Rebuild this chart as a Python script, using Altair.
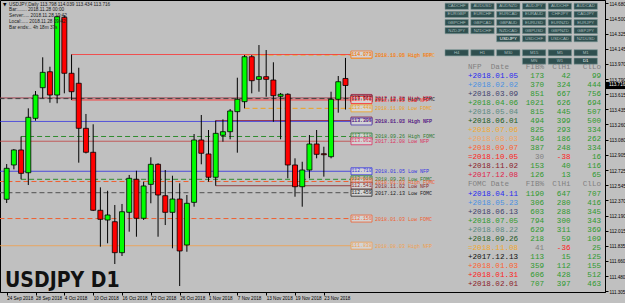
import json
import altair as alt
import pandas as pd

# ---------------- data ----------------
opens = [112.382, 112.784, 112.960, 112.693, 113.331, 113.690, 113.877, 113.604, 114.515, 113.859,
         113.742, 113.214, 112.933, 112.253, 112.139, 112.119, 111.756, 112.229, 112.616, 112.159,
         112.557, 112.792, 112.424, 112.229, 112.385, 111.846, 112.346, 113.077, 112.913, 112.640,
         113.132, 113.174, 113.409, 113.526, 114.053, 113.788, 113.819, 113.780, 113.589, 113.613,
         112.784, 112.529, 112.725, 113.030, 112.916, 112.881, 113.554, 113.798]
highs = [112.795, 112.971, 113.118, 113.448, 113.651, 114.046, 113.936, 114.536, 114.539, 114.079,
         113.924, 113.382, 113.261, 112.522, 112.482, 112.315, 112.327, 112.667, 112.717, 112.588,
         112.874, 112.804, 112.725, 112.658, 112.569, 112.432, 113.147, 113.370, 113.194, 113.305,
         113.319, 113.440, 113.807, 114.073, 114.073, 114.190, 114.132, 113.988, 113.628, 113.624,
         112.862, 112.822, 113.135, 113.194, 112.998, 113.643, 113.827, 114.039]
lows = [112.338, 112.733, 112.616, 112.549, 113.303, 113.566, 113.514, 113.507, 113.624, 113.546,
        112.811, 112.919, 112.244, 111.826, 111.866, 111.623, 111.717, 112.002, 111.943, 112.139,
        112.335, 111.943, 112.080, 111.807, 111.365, 111.767, 112.295, 112.792, 112.588, 112.541,
        113.057, 113.085, 112.928, 113.448, 113.624, 113.643, 113.584, 113.291, 113.085, 112.628,
        112.412, 112.295, 112.628, 112.862, 112.647, 112.862, 113.397, 113.434]
closes = [112.745, 112.960, 112.686, 113.343, 113.604, 113.870, 113.604, 114.522, 113.859, 113.643,
          113.214, 112.933, 112.253, 112.147, 112.198, 111.756, 112.236, 112.628, 112.159, 112.538,
          112.792, 112.432, 112.229, 112.385, 111.776, 112.335, 113.077, 112.921, 112.640, 113.155,
          113.174, 113.417, 113.554, 114.053, 113.772, 113.819, 113.788, 113.596, 113.613, 112.784,
          112.529, 112.725, 113.030, 112.909, 112.904, 113.554, 113.760, 113.716]
current_price = 113.716

x_tick_bars = [0, 4, 8, 12, 16, 20, 24, 28, 32, 36, 40, 44]
x_tick_labels = ["24 Sep 2018", "28 Sep 2018", "4 Oct 2018", "10 Oct 2018", "16 Oct 2018",
                 "22 Oct 2018", "26 Oct 2018", "1 Nov 2018", "7 Nov 2018", "13 Nov 2018",
                 "19 Nov 2018", "23 Nov 2018"]
y_tick_values = [114.680, 114.500, 114.325, 114.145, 113.970, 113.790, 113.615, 113.435,
                 113.260, 113.080, 112.905, 112.725, 112.545, 112.370, 112.190, 112.015,
                 111.835, 111.660, 111.480, 111.305]

header_lines = ["USDJPY,Daily  113.798 114.039 113.434 113.716",
                "Bar:.......  2018.11.28 00:00",
                "Server:....  2018.11.28 19:42",
                "Local:.....  2018.11.28 09:42",
                "Bar ends:..  4h 18m 37s"]

# horizontal NFP / FOMC levels (start = bar index of the event, -1 = before the chart)
level_price = [114.073, 114.079, 113.570, 113.562, 113.546, 113.448, 113.305, 113.294,
               113.118, 113.062, 112.710, 112.616, 112.590, 112.541, 112.459, 112.156, 111.838]
level_start = [33, 9, -1, -1, 9, 33, 29, -1, 2, -1, -1, 2, -1, 29, -1, -1, -1]
level_kind = ["FOMC", "NFP", "NFP", "FOMC", "NFP", "FOMC", "NFP", "NFP",
              "FOMC", "NFP", "NFP", "FOMC", "FOMC", "NFP", "FOMC", "FOMC", "NFP"]
level_label = ["2018.11.08 High FOMC", "2018.10.05 High NFP", "2017.12.08 High NFP",
               "2017.12.13 High FOMC", "2018.10.05 Low NFP", "2018.11.08 Low FOMC",
               "2018.11.02 High NFP", "2018.01.05 High NFP", "2018.09.26 High FOMC",
               "2017.12.08 Low NFP", "2018.01.05 Low NFP", "2018.09.26 Low FOMC",
               "2018.01.03 High FOMC", "2018.11.02 Low NFP", "2017.12.13 Low FOMC",
               "2018.01.03 Low FOMC", "2018.08.03 High NFP"]
level_line_color = ["#f0a020", "#ff2a2a", "#a03040", "#404040", "#ff2a2a", "#f0a020",
                    "#8b1a3a", "#3434e0", "#2e8b2e", "#c04848", "#3434e0", "#2e8b2e",
                    "#f06030", "#8b2a2a", "#505050", "#f06030", "#f0a050"]
level_text_color = ["#f0a020", "#f07a30", "#dc2050", "#202020", "#ff2a2a", "#f0a020",
                    "#8b1a3a", "#4a3ab0", "#2e7a2e", "#dc3060", "#3434e0", "#2e7a2e",
                    "#f06030", "#8b2a2a", "#202020", "#f06030", "#f0a050"]

# right-hand statistics table
nfp_dates = ["+2018.01.05", "+2018.02.02", "+2018.03.09", "+2018.04.06", "+2018.05.04",
             "+2018.06.01", "+2018.07.06", "+2018.08.03", "+2018.09.07", "=2018.10.05",
             "+2018.11.02", "+2017.12.08"]
nfp_fib = [173, 370, 851, 1021, 815, 494, 825, 346, 387, 30, 153, 126]
nfp_clhi = [42, 324, 667, 626, 445, 399, 293, 186, 248, -38, 40, 13]
nfp_cllo = [99, 444, 756, 694, 507, 500, 334, 262, 334, 16, 116, 65]
fomc_dates = ["+2018.04.11", "+2018.05.23", "+2018.06.13", "+2018.07.05", "+2018.08.22",
              "+2018.09.26", "=2018.11.08", "+2017.12.13", "+2018.01.03", "+2018.01.31",
              "+2018.02.01"]
fomc_fib = [1190, 306, 603, 794, 629, 218, 41, 113, 359, 606, 707]
fomc_clhi = [647, 280, 288, 300, 311, 59, -36, 15, 112, 428, 397]
fomc_cllo = [707, 416, 345, 343, 369, 109, 25, 125, 155, 512, 463]
row_colors = ["#2828f0", "#4a90e0", "#40406e", "#2e9a2e", "#5a8a80", "#1e5a1e",
              "#f0a830", "#f4a460", "#ff6030", "#ff2020", "#8b1a2a", "#e0204a"]
fomc_colors = ["#2828f0", "#4a90e0", "#40406e", "#2e9a2e", "#5a8a80", "#1e5a1e",
               "#f0a830", "#101010", "#ff6030", "#ff2020", "#8b1a2a"]
table_headers = ["Date", "FIB%", "ClHi", "ClLo"]

symbol_rows = [["CADCHF", "AUDUSD", "AUDNZD", "AUDJPY", "AUDCHF", "AUDCAD"],
               ["EURGBP", "EURCHF", "EURCAD", "EURAUD", "CHFJPY", "CADJPY"],
               ["GBPCHF", "GBPCAD", "GBPAUD", "EURUSD", "EURNZD", "EURJPY"],
               ["NZDJPY", "NZDCHF", "NZDCAD", "GBPUSD", "GBPNZD", "GBPJPY"],
               ["", "", "USDJPY", "USDCHF", "USDCAD", "NZDUSD"]]
tf_rows = [["H4", "H1", "M30", "M15", "M5", "M1"],
           ["", "", "", "MN", "W1", "D1"]]
selected = ["USDJPY", "D1"]

title_text = "USDJPY D1"

# ---------------- layout ----------------
W, H = 605, 292
BG = "#c0c0c0"
xs = alt.Scale(domain=[-0.232, 82.31], nice=False, zero=False)
ys = alt.Scale(domain=[111.295, 114.718], nice=False, zero=False)
MONO = "Liberation Mono, DejaVu Sans Mono, monospace"
SANS = "Liberation Sans, Arial, sans-serif"

label_expr = json.dumps(x_tick_labels) + "[round(datum.value/4)]"
X_AXIS = alt.Axis(values=x_tick_bars, labelExpr=label_expr, labelAlign="left",
                  labelBaseline="top", labelFontSize=4.6, labelFont=SANS,
                  labelColor="#000", tickSize=3, tickColor="#000",
                  domainColor="#000", labelPadding=0.5, grid=False,
                  labelOverlap=False, labelFlush=False, labelBound=False)
Y_AXIS = alt.Axis(orient="right", values=y_tick_values, format=".3f",
                  labelFontSize=4.6, labelFont=SANS, labelColor="#000",
                  tickSize=3, tickColor="#000", domainColor="#000",
                  labelPadding=1, labelOffset=1, grid=False,
                  labelOverlap=False, labelFlush=False, labelBound=False)


def X(field):
    return alt.X(field, scale=xs, axis=X_AXIS, title=None)


def Y(field):
    return alt.Y(field, scale=ys, axis=Y_AXIS, title=None)


bars = pd.DataFrame({"i": list(range(len(opens))), "open": opens, "high": highs,
                     "low": lows, "close": closes})
bars["dir"] = ["up" if c >= o else "down" for o, c in zip(opens, closes)]

wicks = alt.Chart(bars).mark_rule(color="#000000", strokeWidth=1, clip=True).encode(
    x=X("i:Q"), y=Y("low:Q"), y2="high:Q",
)

bodies = alt.Chart(bars).mark_bar(width=5, stroke="#000000", strokeWidth=0.8, clip=True).encode(
    x=X("i:Q"),
    y=Y("open:Q"),
    y2="close:Q",
    color=alt.Color("dir:N", scale=alt.Scale(domain=["up", "down"], range=["#00ff00", "#ff0000"]),
                    legend=None),
)

levels = pd.DataFrame({"price": level_price, "start": level_start, "kind": level_kind,
                       "label": level_label, "lc": level_line_color, "tc": level_text_color})

level_lines = alt.Chart(levels).mark_rule(strokeWidth=1, clip=True).encode(
    x=X("start:Q"),
    x2=alt.value(351),
    y=Y("price:Q"),
    color=alt.Color("lc:N", scale=None),
    strokeDash=alt.StrokeDash("kind:N", scale=alt.Scale(domain=["NFP", "FOMC"],
                                                        range=[[1, 0], [5, 3]]), legend=None),
)

level_boxes = alt.Chart(levels).transform_calculate(
    yt="datum.price + 0.041", yb="datum.price - 0.041"
).mark_rect(fill="#d4d4d4", strokeWidth=0.8).encode(
    x=alt.value(351), x2=alt.value(372),
    y=Y("yt:Q"), y2="yb:Q",
    stroke=alt.Stroke("tc:N", scale=None),
)

level_values = alt.Chart(levels).mark_text(font=MONO, fontSize=4.8, align="center",
                                           baseline="middle").encode(
    x=alt.value(361.5), y=Y("price:Q"),
    text=alt.Text("price:Q", format=".3f"),
    color=alt.Color("tc:N", scale=None),
)

level_texts = alt.Chart(levels).mark_text(font=MONO, fontSize=5, align="left",
                                          baseline="middle").encode(
    x=alt.value(375), y=Y("price:Q"),
    text="label:N",
    color=alt.Color("tc:N", scale=None),
)

cur = pd.DataFrame({"price": [current_price]})
cur_box = alt.Chart(cur).transform_calculate(
    yt="datum.price + 0.042", yb="datum.price - 0.042"
).mark_rect(fill="#000000").encode(
    x=alt.value(605.5), x2=alt.value(625), y=Y("yt:Q"), y2="yb:Q")
cur_text = alt.Chart(cur).mark_text(font=SANS, fontSize=4.6, align="left",
                                    baseline="middle", color="#ffffff").encode(
    x=alt.value(609), y=Y("price:Q"), text=alt.Text("price:Q", format=".3f"))

# header info (top-left)
hdr = pd.DataFrame({"t": header_lines, "py": [4.6 + 5.8 * k for k in range(len(header_lines))]})
hdr_text = alt.Chart(hdr).mark_text(font=SANS, fontSize=4.7, align="left", baseline="middle",
                                    color="#202020").encode(
    x=alt.value(9), y=alt.Y("py:Q", scale=None, axis=None), text="t:N")
tri = alt.Chart(pd.DataFrame({"t": ["▼"]})).mark_text(font="DejaVu Sans", fontSize=4.5,
                                                        align="left", baseline="middle",
                                                        color="#000").encode(
    x=alt.value(3), y=alt.value(4.6), text="t:N")

# buttons
btn = []
for r, row in enumerate(symbol_rows):
    for c, name in enumerate(row):
        if name:
            btn.append({"name": name, "cx": 456.7 + 25.8 * c, "cy": 6.3 + 8.1 * r,
                        "sel": name in selected})
for r, row in enumerate(tf_rows):
    for c, name in enumerate(row):
        if name:
            btn.append({"name": name, "cx": 456.7 + 25.8 * c, "cy": 52.8 + 8.3 * r,
                        "sel": name in selected})
btn = pd.DataFrame(btn)
btn["x1"] = btn["cx"] - 11.7
btn["x2"] = btn["cx"] + 11.7
btn["y1"] = btn["cy"] - 3.1
btn["y2"] = btn["cy"] + 3.1
btn["tcol"] = ["#ffffff" if s else "#a8bcbc" for s in btn["sel"]]
btn_rect = alt.Chart(btn).mark_rect(fill="#2f4f4f", stroke="#7f9a9a", strokeWidth=0.6).encode(
    x=alt.X("x1:Q", scale=None, axis=None), x2="x2:Q",
    y=alt.Y("y1:Q", scale=None, axis=None), y2="y2:Q")
btn_text = alt.Chart(btn).mark_text(font=SANS, fontSize=4.3, align="center",
                                    baseline="middle").encode(
    x=alt.X("cx:Q", scale=None, axis=None), y=alt.Y("cy:Q", scale=None, axis=None),
    text="name:N", color=alt.Color("tcol:N", scale=None))

# table
GREEN, GRAY, RED = "#2f9a2f", "#808080", "#ff2020"
ROW0, DY = 66.8, 9.05
cells = []


def add_section(first_row, title, dates, fib, clhi, cllo, colors):
    hy = ROW0 + DY * first_row
    cells.append({"t": title, "px": 468, "py": hy, "c": GRAY, "a": "left"})
    for txt, px in zip(table_headers, [509, 544, 570.5, 601]):
        cells.append({"t": txt, "px": px, "py": hy, "c": GRAY, "a": "right"})
    for k, d in enumerate(dates):
        y = ROW0 + DY * (first_row + 1 + k)
        flat = d.startswith("=")
        cells.append({"t": d, "px": 468, "py": y, "c": colors[k], "a": "left"})
        for v, px, is_fib in [(fib[k], 544, True), (clhi[k], 570.5, False), (cllo[k], 601, False)]:
            col = GRAY if (flat and is_fib) else (RED if v < 0 else GREEN)
            cells.append({"t": str(v), "px": px, "py": y, "c": col, "a": "right"})


add_section(0, "NFP", nfp_dates, nfp_fib, nfp_clhi, nfp_cllo, row_colors)
add_section(len(nfp_dates) + 1, "FOMC", fomc_dates, fomc_fib, fomc_clhi, fomc_cllo, fomc_colors)
cells = pd.DataFrame(cells)


def table_layer(align):
    return alt.Chart(cells[cells["a"] == align]).mark_text(
        font=MONO, fontSize=7.6, align=align, baseline="middle").encode(
        x=alt.X("px:Q", scale=None, axis=None), y=alt.Y("py:Q", scale=None, axis=None),
        text="t:N", color=alt.Color("c:N", scale=None))


big_title = alt.Chart(pd.DataFrame({"t": [title_text]})).mark_text(
    font="Liberation Sans Narrow, DejaVu Sans Condensed, Arial Narrow, sans-serif",
    fontSize=21, fontWeight="bold", align="left", baseline="alphabetic", color="#111111").encode(
    x=alt.value(5), y=alt.value(287), text="t:N")

chart = alt.layer(
    level_lines, wicks, bodies, level_boxes, level_values, level_texts,
    cur_box, cur_text, hdr_text, tri, btn_rect, btn_text,
    table_layer("left"), table_layer("right"), big_title,
).properties(
    width=W, height=H,
    autosize=alt.AutoSizeParams(type="none"),
    padding={"left": 0, "top": 0, "right": 20, "bottom": 11},
    background=BG,
).configure_view(stroke="#000000", strokeWidth=1)

chart.save("out.html", embed_options={"renderer": "svg", "actions": False})
